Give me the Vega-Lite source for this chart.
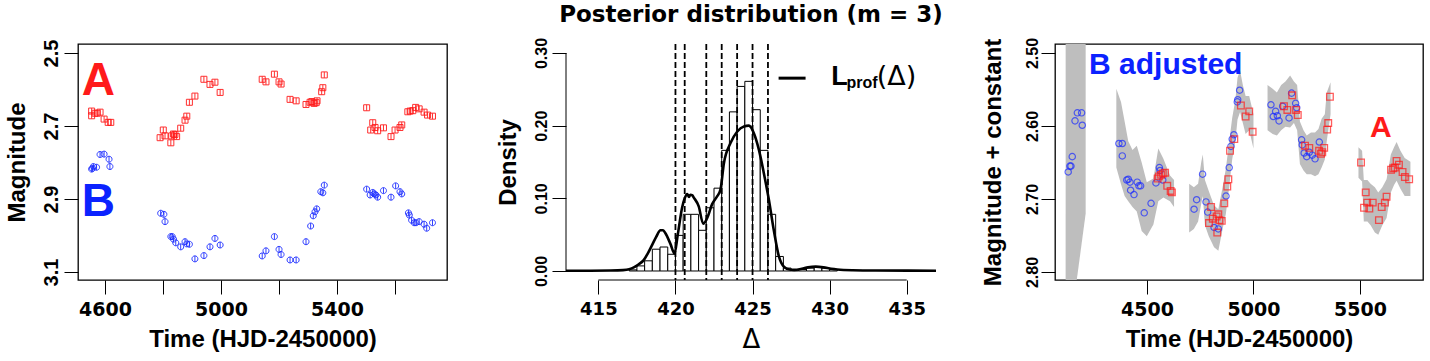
{
"$schema":"https://vega.github.io/schema/vega-lite/v6.json",
"autosize":{"type":"none"},
"padding":{"left":78,"top":44,"right":1352,"bottom":317},
"background":"white",
"bounds":"flush",
"spacing":119,
"datasets":{
"lc":[
{"t":4554,"m":2.659,"img":"A"},{"t":4554,"m":2.672,"img":"A"},{"t":4566,"m":2.665,"img":"A"},{"t":4573,"m":2.665,"img":"A"},{"t":4583,"m":2.662,"img":"A"},{"t":4597,"m":2.681,"img":"A"},{"t":4611,"m":2.69,"img":"A"},{"t":4620,"m":2.69,"img":"A"},
{"t":4554,"m":2.818,"img":"B"},{"t":4557,"m":2.816,"img":"B"},{"t":4560,"m":2.811,"img":"B"},{"t":4571,"m":2.813,"img":"B"},{"t":4583,"m":2.778,"img":"B"},{"t":4597,"m":2.777,"img":"B"},{"t":4614,"m":2.791,"img":"B"},{"t":4617,"m":2.811,"img":"B"},
{"t":4790,"m":2.732,"img":"A"},{"t":4801,"m":2.711,"img":"A"},{"t":4807,"m":2.727,"img":"A"},{"t":4827,"m":2.746,"img":"A"},{"t":4830,"m":2.727,"img":"A"},{"t":4836,"m":2.722,"img":"A"},{"t":4841,"m":2.723,"img":"A"},{"t":4847,"m":2.729,"img":"A"},{"t":4861,"m":2.706,"img":"A"},{"t":4876,"m":2.684,"img":"A"},{"t":4882,"m":2.673,"img":"A"},{"t":4891,"m":2.635,"img":"A"},{"t":4910,"m":2.618,"img":"A"},{"t":4941,"m":2.572,"img":"A"},{"t":4962,"m":2.586,"img":"A"},{"t":4979,"m":2.58,"img":"A"},{"t":4997,"m":2.608,"img":"A"},
{"t":4792,"m":2.939,"img":"B"},{"t":4803,"m":2.942,"img":"B"},{"t":4807,"m":2.962,"img":"B"},{"t":4827,"m":3.003,"img":"B"},{"t":4832,"m":3.003,"img":"B"},{"t":4836,"m":3.01,"img":"B"},{"t":4844,"m":3.02,"img":"B"},{"t":4861,"m":3.031,"img":"B"},{"t":4876,"m":3.017,"img":"B"},{"t":4882,"m":3.023,"img":"B"},{"t":4891,"m":3.024,"img":"B"},{"t":4910,"m":3.064,"img":"B"},{"t":4941,"m":3.055,"img":"B"},{"t":4962,"m":3.031,"img":"B"},{"t":4979,"m":3.008,"img":"B"},{"t":4997,"m":3.026,"img":"B"},
{"t":5142,"m":2.572,"img":"A"},{"t":5155,"m":2.579,"img":"A"},{"t":5184,"m":2.558,"img":"A"},{"t":5200,"m":2.579,"img":"A"},{"t":5207,"m":2.585,"img":"A"},{"t":5238,"m":2.627,"img":"A"},{"t":5259,"m":2.631,"img":"A"},{"t":5293,"m":2.641,"img":"A"},{"t":5307,"m":2.635,"img":"A"},{"t":5313,"m":2.633,"img":"A"},{"t":5321,"m":2.638,"img":"A"},{"t":5328,"m":2.636,"img":"A"},{"t":5331,"m":2.631,"img":"A"},{"t":5347,"m":2.606,"img":"A"},{"t":5351,"m":2.595,"img":"A"},{"t":5356,"m":2.56,"img":"A"},
{"t":5142,"m":3.056,"img":"B"},{"t":5155,"m":3.042,"img":"B"},{"t":5184,"m":3.003,"img":"B"},{"t":5200,"m":3.038,"img":"B"},{"t":5207,"m":3.052,"img":"B"},{"t":5238,"m":3.067,"img":"B"},{"t":5259,"m":3.067,"img":"B"},{"t":5293,"m":3.017,"img":"B"},{"t":5309,"m":2.974,"img":"B"},{"t":5318,"m":2.946,"img":"B"},{"t":5324,"m":2.935,"img":"B"},{"t":5330,"m":2.927,"img":"B"},{"t":5344,"m":2.88,"img":"B"},{"t":5351,"m":2.883,"img":"B"},{"t":5356,"m":2.862,"img":"B"},
{"t":5502,"m":2.65,"img":"A"},{"t":5516,"m":2.711,"img":"A"},{"t":5523,"m":2.691,"img":"A"},{"t":5531,"m":2.704,"img":"A"},{"t":5540,"m":2.713,"img":"A"},{"t":5560,"m":2.705,"img":"A"},{"t":5586,"m":2.729,"img":"A"},{"t":5600,"m":2.711,"img":"A"},{"t":5617,"m":2.704,"img":"A"},{"t":5623,"m":2.697,"img":"A"},{"t":5644,"m":2.661,"img":"A"},{"t":5652,"m":2.659,"img":"A"},{"t":5661,"m":2.658,"img":"A"},{"t":5671,"m":2.649,"img":"A"},{"t":5683,"m":2.653,"img":"A"},{"t":5700,"m":2.662,"img":"A"},{"t":5712,"m":2.67,"img":"A"},{"t":5729,"m":2.673,"img":"A"},
{"t":5502,"m":2.873,"img":"B"},{"t":5514,"m":2.889,"img":"B"},{"t":5523,"m":2.882,"img":"B"},{"t":5528,"m":2.886,"img":"B"},{"t":5534,"m":2.889,"img":"B"},{"t":5540,"m":2.895,"img":"B"},{"t":5560,"m":2.877,"img":"B"},{"t":5586,"m":2.895,"img":"B"},{"t":5602,"m":2.864,"img":"B"},{"t":5617,"m":2.88,"img":"B"},{"t":5623,"m":2.886,"img":"B"},{"t":5646,"m":2.938,"img":"B"},{"t":5649,"m":2.944,"img":"B"},{"t":5657,"m":2.958,"img":"B"},{"t":5666,"m":2.965,"img":"B"},{"t":5672,"m":2.965,"img":"B"},{"t":5683,"m":2.962,"img":"B"},{"t":5700,"m":2.969,"img":"B"},{"t":5709,"m":2.98,"img":"B"},{"t":5729,"m":2.965,"img":"B"}
],
"adj":[
{"t":4130,"m":2.663,"img":"B"},{"t":4138,"m":2.655,"img":"B"},{"t":4143,"m":2.655,"img":"B"},{"t":4149,"m":2.642,"img":"B"},{"t":4162,"m":2.593,"img":"B"},{"t":4173,"m":2.582,"img":"B"},{"t":4193,"m":2.582,"img":"B"},{"t":4196,"m":2.599,"img":"B"},
{"t":4368,"m":2.624,"img":"B"},{"t":4384,"m":2.624,"img":"B"},{"t":4384,"m":2.641,"img":"B"},{"t":4405,"m":2.674,"img":"B"},{"t":4412,"m":2.673,"img":"B"},{"t":4420,"m":2.677,"img":"B"},{"t":4423,"m":2.688,"img":"B"},{"t":4439,"m":2.694,"img":"B"},{"t":4454,"m":2.677,"img":"B"},{"t":4462,"m":2.682,"img":"B"},{"t":4470,"m":2.682,"img":"B"},{"t":4487,"m":2.719,"img":"B"},{"t":4519,"m":2.706,"img":"B"},{"t":4542,"m":2.678,"img":"B"},{"t":4558,"m":2.657,"img":"B"},{"t":4561,"m":2.661,"img":"B"},{"t":4574,"m":2.674,"img":"B"},
{"t":4721,"m":2.714,"img":"B"},{"t":4733,"m":2.701,"img":"B"},{"t":4761,"m":2.666,"img":"B"},{"t":4777,"m":2.704,"img":"B"},{"t":4785,"m":2.718,"img":"B"},{"t":4815,"m":2.739,"img":"B"},{"t":4835,"m":2.741,"img":"B"},{"t":4871,"m":2.696,"img":"B"},{"t":4886,"m":2.657,"img":"B"},{"t":4894,"m":2.628,"img":"B"},{"t":4900,"m":2.618,"img":"B"},{"t":4908,"m":2.612,"img":"B"},{"t":4924,"m":2.567,"img":"B"},{"t":4926,"m":2.564,"img":"B"},{"t":4935,"m":2.551,"img":"B"},
{"t":5082,"m":2.571,"img":"B"},{"t":5093,"m":2.587,"img":"B"},{"t":5104,"m":2.58,"img":"B"},{"t":5112,"m":2.586,"img":"B"},{"t":5120,"m":2.593,"img":"B"},{"t":5137,"m":2.573,"img":"B"},{"t":5167,"m":2.589,"img":"B"},{"t":5179,"m":2.555,"img":"B"},{"t":5198,"m":2.569,"img":"B"},{"t":5203,"m":2.575,"img":"B"},{"t":5226,"m":2.619,"img":"B"},{"t":5229,"m":2.626,"img":"B"},{"t":5238,"m":2.637,"img":"B"},{"t":5250,"m":2.642,"img":"B"},{"t":5262,"m":2.636,"img":"B"},{"t":5276,"m":2.64,"img":"B"},{"t":5289,"m":2.645,"img":"B"},{"t":5309,"m":2.622,"img":"B"},
{"t":4550,"m":2.672,"img":"A"},{"t":4556,"m":2.669,"img":"A"},{"t":4566,"m":2.667,"img":"A"},{"t":4574,"m":2.665,"img":"A"},{"t":4585,"m":2.664,"img":"A"},{"t":4595,"m":2.682,"img":"A"},{"t":4611,"m":2.689,"img":"A"},{"t":4617,"m":2.691,"img":"A"},
{"t":4791,"m":2.733,"img":"A"},{"t":4801,"m":2.711,"img":"A"},{"t":4809,"m":2.727,"img":"A"},{"t":4827,"m":2.724,"img":"A"},{"t":4830,"m":2.746,"img":"A"},{"t":4835,"m":2.721,"img":"A"},{"t":4840,"m":2.729,"img":"A"},{"t":4851,"m":2.73,"img":"A"},{"t":4863,"m":2.706,"img":"A"},{"t":4877,"m":2.683,"img":"A"},{"t":4882,"m":2.673,"img":"A"},{"t":4890,"m":2.634,"img":"A"},{"t":4910,"m":2.618,"img":"A"},{"t":4941,"m":2.572,"img":"A"},{"t":4963,"m":2.587,"img":"A"},{"t":4980,"m":2.58,"img":"A"},{"t":4996,"m":2.608,"img":"A"},
{"t":5143,"m":2.573,"img":"A"},{"t":5159,"m":2.578,"img":"A"},{"t":5182,"m":2.558,"img":"A"},{"t":5200,"m":2.578,"img":"A"},{"t":5208,"m":2.585,"img":"A"},{"t":5242,"m":2.627,"img":"A"},{"t":5262,"m":2.63,"img":"A"},{"t":5308,"m":2.634,"img":"A"},{"t":5317,"m":2.638,"img":"A"},{"t":5323,"m":2.636,"img":"A"},{"t":5332,"m":2.63,"img":"A"},{"t":5346,"m":2.605,"img":"A"},{"t":5351,"m":2.596,"img":"A"},{"t":5359,"m":2.56,"img":"A"},
{"t":5505,"m":2.65,"img":"A"},{"t":5519,"m":2.712,"img":"A"},{"t":5527,"m":2.691,"img":"A"},{"t":5534,"m":2.705,"img":"A"},{"t":5544,"m":2.713,"img":"A"},{"t":5560,"m":2.705,"img":"A"},{"t":5589,"m":2.729,"img":"A"},{"t":5602,"m":2.711,"img":"A"},{"t":5617,"m":2.705,"img":"A"},{"t":5625,"m":2.697,"img":"A"},{"t":5646,"m":2.66,"img":"A"},{"t":5656,"m":2.658,"img":"A"},{"t":5664,"m":2.657,"img":"A"},{"t":5672,"m":2.648,"img":"A"},{"t":5683,"m":2.653,"img":"A"},{"t":5700,"m":2.663,"img":"A"},{"t":5711,"m":2.67,"img":"A"},{"t":5731,"m":2.673,"img":"A"}
],
"band":[
{"t":4118,"lo":2.48,"hi":2.82,"seg":1},{"t":4166,"lo":2.48,"hi":2.82,"seg":1},{"t":4212,"lo":2.48,"hi":2.72,"seg":1},
{"t":4356,"lo":2.549,"hi":2.657,"seg":2},{"t":4378,"lo":2.567,"hi":2.68,"seg":2},{"t":4395,"lo":2.594,"hi":2.696,"seg":2},{"t":4412,"lo":2.621,"hi":2.703,"seg":2},{"t":4432,"lo":2.633,"hi":2.711,"seg":2},{"t":4452,"lo":2.627,"hi":2.717,"seg":2},{"t":4475,"lo":2.65,"hi":2.744,"seg":2},{"t":4499,"lo":2.677,"hi":2.751,"seg":2},{"t":4530,"lo":2.672,"hi":2.735,"seg":2},{"t":4553,"lo":2.631,"hi":2.703,"seg":2},{"t":4577,"lo":2.645,"hi":2.698,"seg":2},{"t":4608,"lo":2.668,"hi":2.703,"seg":2},{"t":4627,"lo":2.674,"hi":2.711,"seg":2},
{"t":4698,"lo":2.679,"hi":2.746,"seg":3},{"t":4720,"lo":2.684,"hi":2.741,"seg":3},{"t":4740,"lo":2.679,"hi":2.731,"seg":3},{"t":4755,"lo":2.649,"hi":2.706,"seg":3},{"t":4762,"lo":2.639,"hi":2.696,"seg":3},{"t":4772,"lo":2.674,"hi":2.736,"seg":3},{"t":4790,"lo":2.689,"hi":2.751,"seg":3},{"t":4815,"lo":2.709,"hi":2.766,"seg":3},{"t":4835,"lo":2.714,"hi":2.771,"seg":3},{"t":4855,"lo":2.684,"hi":2.741,"seg":3},{"t":4870,"lo":2.659,"hi":2.721,"seg":3},{"t":4885,"lo":2.624,"hi":2.686,"seg":3},{"t":4900,"lo":2.589,"hi":2.646,"seg":3},{"t":4915,"lo":2.564,"hi":2.621,"seg":3},{"t":4925,"lo":2.534,"hi":2.591,"seg":3},{"t":4937,"lo":2.524,"hi":2.581,"seg":3},{"t":4950,"lo":2.544,"hi":2.596,"seg":3},{"t":4963,"lo":2.559,"hi":2.611,"seg":3},{"t":4980,"lo":2.559,"hi":2.606,"seg":3},{"t":5000,"lo":2.584,"hi":2.631,"seg":3},
{"t":5066,"lo":2.544,"hi":2.606,"seg":4},{"t":5090,"lo":2.549,"hi":2.611,"seg":4},{"t":5110,"lo":2.554,"hi":2.613,"seg":4},{"t":5130,"lo":2.544,"hi":2.606,"seg":4},{"t":5150,"lo":2.539,"hi":2.601,"seg":4},{"t":5172,"lo":2.531,"hi":2.602,"seg":4},{"t":5190,"lo":2.539,"hi":2.596,"seg":4},{"t":5205,"lo":2.544,"hi":2.606,"seg":4},{"t":5218,"lo":2.594,"hi":2.652,"seg":4},{"t":5235,"lo":2.606,"hi":2.661,"seg":4},{"t":5250,"lo":2.613,"hi":2.666,"seg":4},{"t":5270,"lo":2.609,"hi":2.666,"seg":4},{"t":5289,"lo":2.609,"hi":2.669,"seg":4},{"t":5305,"lo":2.604,"hi":2.666,"seg":4},{"t":5320,"lo":2.59,"hi":2.657,"seg":4},{"t":5335,"lo":2.584,"hi":2.646,"seg":4},{"t":5344,"lo":2.554,"hi":2.621,"seg":4},{"t":5362,"lo":2.54,"hi":2.584,"seg":4},
{"t":5493,"lo":2.629,"hi":2.671,"seg":5},{"t":5510,"lo":2.634,"hi":2.676,"seg":5},{"t":5518,"lo":2.674,"hi":2.731,"seg":5},{"t":5535,"lo":2.674,"hi":2.731,"seg":5},{"t":5550,"lo":2.679,"hi":2.736,"seg":5},{"t":5570,"lo":2.684,"hi":2.746,"seg":5},{"t":5586,"lo":2.691,"hi":2.749,"seg":5},{"t":5605,"lo":2.684,"hi":2.736,"seg":5},{"t":5625,"lo":2.673,"hi":2.726,"seg":5},{"t":5645,"lo":2.639,"hi":2.691,"seg":5},{"t":5660,"lo":2.629,"hi":2.681,"seg":5},{"t":5672,"lo":2.622,"hi":2.675,"seg":5},{"t":5690,"lo":2.634,"hi":2.686,"seg":5},{"t":5710,"lo":2.644,"hi":2.696,"seg":5},{"t":5737,"lo":2.649,"hi":2.696,"seg":5}
],
"hist":[
{"b0":417.0,"b1":417.5,"d":0.0015},{"b0":417.5,"b1":418.0,"d":0.007},{"b0":418.0,"b1":418.5,"d":0.014},{"b0":418.5,"b1":419.0,"d":0.03},{"b0":419.0,"b1":419.5,"d":0.033},{"b0":419.5,"b1":420.0,"d":0.023},{"b0":420.0,"b1":420.5,"d":0.049},{"b0":420.5,"b1":421.0,"d":0.078},{"b0":421.0,"b1":421.5,"d":0.078},{"b0":421.5,"b1":422.0,"d":0.056},{"b0":422.0,"b1":422.5,"d":0.087},{"b0":422.5,"b1":423.0,"d":0.114},{"b0":423.0,"b1":423.5,"d":0.166},{"b0":423.5,"b1":424.0,"d":0.219},{"b0":424.0,"b1":424.5,"d":0.254},{"b0":424.5,"b1":425.0,"d":0.261},{"b0":425.0,"b1":425.5,"d":0.222},{"b0":425.5,"b1":426.0,"d":0.166},{"b0":426.0,"b1":426.5,"d":0.078},{"b0":426.5,"b1":427.0,"d":0.02},{"b0":427.0,"b1":427.5,"d":0.004},{"b0":427.5,"b1":428.0,"d":0.002},{"b0":428.0,"b1":428.5,"d":0.002},{"b0":428.5,"b1":429.0,"d":0.004},{"b0":429.0,"b1":429.5,"d":0.005},{"b0":429.5,"b1":430.0,"d":0.004},{"b0":430.0,"b1":430.5,"d":0.002}
],
"dens":[
{"x":412.9,"y":0.0003},{"x":414.5,"y":0.0004},{"x":415.8,"y":0.0006},{"x":416.6,"y":0.0012},{"x":417.0,"y":0.0025},{"x":417.3,"y":0.005},{"x":417.6,"y":0.009},{"x":417.94,"y":0.015},{"x":418.2,"y":0.024},{"x":418.49,"y":0.036},{"x":418.75,"y":0.047},{"x":419.03,"y":0.056},{"x":419.2,"y":0.056},{"x":419.35,"y":0.052},{"x":419.68,"y":0.037},{"x":419.94,"y":0.024},{"x":420.15,"y":0.05},{"x":420.43,"y":0.087},{"x":420.6,"y":0.1},{"x":420.76,"y":0.106},{"x":420.88,"y":0.102},{"x":420.97,"y":0.105},{"x":421.1,"y":0.104},{"x":421.19,"y":0.101},{"x":421.51,"y":0.089},{"x":421.8,"y":0.065},{"x":422.06,"y":0.073},{"x":422.38,"y":0.092},{"x":422.71,"y":0.103},{"x":422.92,"y":0.112},{"x":423.14,"y":0.148},{"x":423.57,"y":0.176},{"x":424.01,"y":0.192},{"x":424.44,"y":0.199},{"x":424.76,"y":0.2},{"x":425.08,"y":0.19},{"x":425.41,"y":0.167},{"x":425.73,"y":0.135},{"x":426.06,"y":0.098},{"x":426.38,"y":0.056},{"x":426.71,"y":0.02},{"x":427.03,"y":0.006},{"x":427.4,"y":0.002},{"x":427.7,"y":0.0015},{"x":428.2,"y":0.003},{"x":428.6,"y":0.005},{"x":429.1,"y":0.006},{"x":429.6,"y":0.005},{"x":430.1,"y":0.003},{"x":430.5,"y":0.002},{"x":431.5,"y":0.001},{"x":433,"y":0.0006},{"x":436.9,"y":0.0004}
],
"vl":[{"v":420.0},{"v":420.6},{"v":422.0},{"v":423.0},{"v":424.0},{"v":425.0},{"v":426.0}]
},
"config":{
"view":{"stroke":"black","strokeWidth":1.3},
"axis":{"domain":false,"grid":false,"ticks":true,"tickColor":"black","tickWidth":1,"tickSize":14,"labelColor":"black","titleColor":"black","labelFont":"DejaVu Sans","labelFontWeight":"bold","titleFont":"Liberation Sans","titleFontWeight":"bold","titleFontSize":24,"labelOverlap":false,"labelFlush":false,"labelBound":false},
"axisX":{"labelFontSize":19,"labelPadding":6,"titlePadding":8},
"axisY":{"labelFont":"Liberation Sans","labelAngle":-90,"labelAlign":"center","labelBaseline":"bottom","labelPadding":3,"labelFontSize":16,"titlePadding":12},
"text":{"font":"Liberation Sans","fontWeight":"bold"}
},
"hconcat":[
{
"width":369,"height":236,
"layer":[
{"data":{"name":"lc"},"transform":[{"filter":"datum.img==='A'"}],
"mark":{"type":"point","shape":"M-1,-1L1,-1L1,1L-1,1Z M0,-1L0,1","size":36,"filled":false,"color":"#ff1a1a","strokeWidth":1,"opacity":0.9},
"encoding":{
"x":{"field":"t","type":"quantitative","scale":{"domain":[4507,5779],"nice":false,"zero":false},"axis":{"values":[4600,4800,5000,5200,5400,5600],"labelExpr":"datum.value % 400 == 200 ? format(datum.value,'d') : ''","title":"Time (HJD-2450000)"}},
"y":{"field":"m","type":"quantitative","scale":{"domain":[2.4753,3.1219],"reverse":true,"nice":false,"zero":false},"axis":{"values":[2.5,2.6,2.7,2.8,2.9,3.0,3.1],"labelExpr":"round(datum.value*10) % 2 == 1 ? format(datum.value,'.1f') : ''","labelFontSize":20,"title":"Magnitude"}}
}},
{"data":{"name":"lc"},"transform":[{"filter":"datum.img==='B'"}],
"mark":{"type":"point","shape":"M-1,0A1,1,0,1,1,1,0A1,1,0,1,1,-1,0Z M0,-1L0,1","size":36,"filled":false,"color":"#1a2bff","strokeWidth":1,"opacity":0.9},
"encoding":{"x":{"field":"t","type":"quantitative","title":"Time (HJD-2450000)"},"y":{"field":"m","type":"quantitative","title":"Magnitude"}}},
{"data":{"values":[{}]},"mark":{"type":"text","text":"A","fontSize":46,"color":"#ff1a1a","align":"left","baseline":"alphabetic"},"encoding":{"x":{"datum":4520},"y":{"datum":2.615}}},
{"data":{"values":[{}]},"mark":{"type":"text","text":"B","fontSize":46,"color":"#0b22ff","align":"left","baseline":"alphabetic"},"encoding":{"x":{"datum":4520},"y":{"datum":2.9466}}}
]
},
{
"width":370,"height":236,
"view":{"stroke":null},
"layer":[
{"data":{"name":"hist"},"mark":{"type":"rect","fill":"white","stroke":"black","strokeWidth":1},
"encoding":{
"x":{"field":"b0","type":"quantitative","scale":{"domain":[412.9,436.9],"nice":false,"zero":false},"axis":{"values":[415,420,425,430,435],"title":"Δ","titleFont":"DejaVu Sans","titleFontWeight":"normal","titleFontSize":26,"labelFontSize":18}},
"x2":{"field":"b1"},
"y":{"field":"d","type":"quantitative","scale":{"domain":[-0.0124,0.3124],"nice":false,"zero":false},"axis":{"values":[0,0.05,0.1,0.15,0.2,0.25,0.3],"labelExpr":"round(datum.value*100) % 10 == 0 ? format(datum.value,'.2f') : ''","title":"Density","titlePadding":13}},
"y2":{"datum":0}}},
{"data":{"name":"vl"},"mark":{"type":"rule","strokeDash":[6,3],"strokeWidth":1.8,"color":"black"},"encoding":{"x":{"field":"v","type":"quantitative","title":"Δ"}}},
{"data":{"name":"dens"},"mark":{"type":"line","color":"black","strokeWidth":2.6,"interpolate":"monotone"},"encoding":{"x":{"field":"x","type":"quantitative","title":"Δ"},"y":{"field":"y","type":"quantitative","title":"Density"}}},
{"data":{"values":[{}]},"mark":{"type":"rule","color":"black","strokeWidth":1},"encoding":{"x":{"datum":415},"x2":{"datum":435},"y":{"datum":-0.0124}}},
{"data":{"values":[{}]},"mark":{"type":"rule","color":"black","strokeWidth":1},"encoding":{"x":{"datum":412.9},"y":{"datum":0},"y2":{"datum":0.3}}},
{"data":{"values":[{}]},"mark":{"type":"rule","color":"black","strokeWidth":3},"encoding":{"x":{"datum":426.69},"x2":{"datum":428.44},"y":{"datum":0.2654}}},
{"data":{"values":[{}]},"mark":{"type":"text","text":"L","fontSize":27,"color":"black","align":"left","baseline":"alphabetic"},"encoding":{"x":{"datum":430.1},"y":{"datum":0.2562}}},
{"data":{"values":[{}]},"mark":{"type":"text","text":"prof","fontSize":16,"color":"black","align":"left","baseline":"alphabetic"},"encoding":{"x":{"datum":431.1},"y":{"datum":0.2525}}},
{"data":{"values":[{}]},"mark":{"type":"text","text":"(Δ)","font":"DejaVu Sans","fontWeight":"normal","fontSize":27,"color":"black","align":"left","baseline":"alphabetic"},"encoding":{"x":{"datum":433.05},"y":{"datum":0.2562}}},
{"data":{"values":[{}]},"mark":{"type":"text","text":"Posterior distribution (m = 3)","font":"DejaVu Sans","fontSize":23,"color":"black","align":"center","baseline":"alphabetic"},"encoding":{"x":{"datum":424.9},"y":{"datum":0.3427}}}
]
},
{
"width":368,"height":236,
"layer":[
{"data":{"name":"band"},"mark":{"type":"area","color":"#bebebe","clip":true},
"encoding":{
"x":{"field":"t","type":"quantitative","scale":{"domain":[4068,5796],"nice":false,"zero":false},"axis":{"values":[4500,5000,5500],"format":"d","title":"Time (HJD-2450000)"}},
"y":{"field":"lo","type":"quantitative","scale":{"domain":[2.4877,2.811],"reverse":true,"nice":false,"zero":false},"axis":{"values":[2.5,2.55,2.6,2.65,2.7,2.75,2.8],"labelExpr":"round(datum.value*100) % 10 == 0 ? format(datum.value,'.2f') : ''","title":"Magnitude + constant","labelPadding":1,"titlePadding":19}},
"y2":{"field":"hi"},
"detail":{"field":"seg"}}},
{"data":{"name":"adj"},"transform":[{"filter":"datum.img==='B'"}],"mark":{"type":"point","shape":"circle","size":40,"filled":false,"color":"#1a2bff","strokeWidth":1.2},
"encoding":{"x":{"field":"t","type":"quantitative","title":"Time (HJD-2450000)"},"y":{"field":"m","type":"quantitative","title":"Magnitude + constant"}}},
{"data":{"name":"adj"},"transform":[{"filter":"datum.img==='A'"}],"mark":{"type":"point","shape":"square","size":44,"filled":false,"color":"#ff1a1a","strokeWidth":1.3},
"encoding":{"x":{"field":"t","type":"quantitative","title":"Time (HJD-2450000)"},"y":{"field":"m","type":"quantitative","title":"Magnitude + constant"}}},
{"data":{"values":[{}]},"mark":{"type":"text","text":"B adjusted","fontSize":30,"color":"#0b22ff","align":"left","baseline":"alphabetic"},"encoding":{"x":{"datum":4228},"y":{"datum":2.5292}}},
{"data":{"values":[{}]},"mark":{"type":"text","text":"A","fontSize":30,"color":"#ff1a1a","align":"left","baseline":"alphabetic"},"encoding":{"x":{"datum":5547},"y":{"datum":2.6147}}}
]
}
]
}
